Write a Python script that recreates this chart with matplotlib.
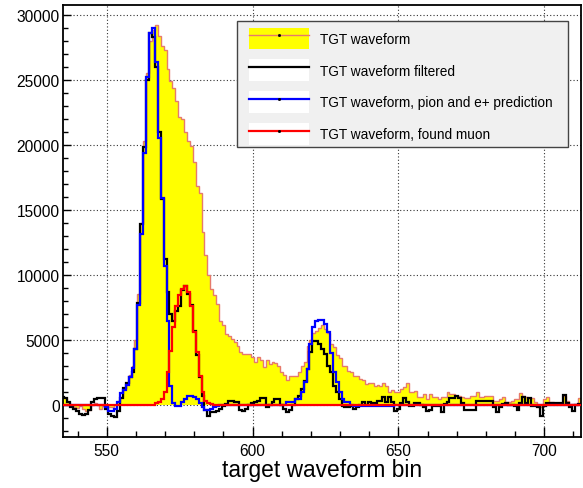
import numpy as np
import matplotlib
matplotlib.use("Agg")
import matplotlib.pyplot as plt
from matplotlib.patches import Patch, Rectangle
from matplotlib.lines import Line2D
from matplotlib.ticker import MultipleLocator

plt.rcParams['font.family'] = ['Liberation Sans', 'DejaVu Sans']

# ---- data (bin centres 535..712) ----
bins = np.arange(535, 713)

tgt_waveform = [
    600, 550, 200, 0, -200, -250, -100, -300, -500, -400,
    0, 100, 0, -300, -100, 0, -150, -200, 0, 300,
    600, 1200, 1700, 2300, 3000, 5000, 8500, 14000, 20300, 25500,
    28000, 28800, 29200, 28400, 27600, 27300, 25800, 24900, 24400, 23400,
    22100, 22000, 21000, 20300, 19900, 18700, 16800, 16300, 13300, 11500,
    10000, 8900, 8400, 7750, 6400, 6100, 5450, 5300, 5050, 4800,
    4550, 4050, 3900, 3900, 3900, 3650, 3300, 3650, 3400, 2900,
    3400, 3100, 3300, 3200, 3000, 2500, 2300, 1900, 2200, 2200,
    2200, 2500, 3000, 3300, 4500, 5000, 5500, 5700, 5900, 6100,
    5800, 5500, 4700, 4400, 3800, 3600, 3000, 3000, 2600, 2500,
    2200, 2200, 2000, 1900, 1600, 1700, 1650, 1450, 1500, 1450,
    1700, 1450, 950, 1100, 1000, 950, 1200, 1340, 1700, 950,
    950, 1080, 570, 570, 820, 440, 820, 600, 600, 440,
    570, 600, 950, 820, 820, 690, 690, 570, 500, 490,
    690, 690, 950, 600, 600, 690, 690, 690, 310, 310,
    400, 570, 200, 180, 300, 400, 440, 880, 700, 570,
    500, 500, 200, -200, -200, 400, 570, 200, 200, 150,
    50, 50, 690, 300, 50, 50, 50, 490,
]

tgt_filtered = [
    600, 500, 200, -150, -300, -500, -700, -800, -700, -400,
    200, 400, 550, 550, 500, -300, -700, -900, -950, -500,
    500, 1300, 1700, 2100, 2500, 4300, 7800, 13900, 19800, 25000,
    28600, 28300, 26000, 21000, 15800, 11200, 8650, 7000, 6400, 7200,
    7600, 8800, 9100, 8500, 7700, 5700, 3800, 2100, 690, -400,
    -850, -600, -560, -500, -300, -100, 50, 300, 250, 200,
    200, -400, -500, -300, 0, 150, 200, 300, 490, 490,
    -200, 0, 200, 450, 400, 0, -300, -590, -400, 0,
    400, 690, 1210, 1850, 2750, 4030, 4900, 4900, 4670, 4290,
    3900, 3000, 2490, 1460, 950, 440, -80, -200, -150, -100,
    -330, -200, 0, 180, 0, 180, 100, 100, 310, 310,
    570, 200, 570, 200, -460, -300, 100, 550, 200, -100,
    -100, 100, 100, 0, -200, -460, -400, -80, -80, -120,
    -540, 50, 200, 490, 490, 690, 490, 150, -380, -380,
    -380, -380, 310, 310, 250, 250, 250, 250, -200, -540,
    -200, 50, 100, 0, 0, -80, -380, 150, 570, 150,
    490, -80, -80, -200, -850, -80, 150, 100, 100, 100,
    100, 150, 750, 150, -200, -460, 0, 50,
]

pion_positron_pred = [
    0, 0, 0, 0, 0, 0, 0, 0, 0, 0,
    0, 0, 0, 0, 0, -200, -500, -500, -350, 200,
    900, 1100, 1500, 2100, 2800, 4300, 7700, 13100, 19400, 25200,
    28600, 29000, 26400, 20500, 15900, 10700, 6400, 1400, 100, -100,
    -100, 200, 450, 650, 700, 600, 400, 100, -200, -400,
    -400, -300, -200, -100, 0, 0, 0, 0, 0, 0,
    0, 0, 0, 0, 0, 0, 0, 0, 0, 0,
    0, 0, 0, 0, 0, 0, 0, 200, 200, 200,
    440, 440, 980, 1750, 2750, 4670, 5980, 6460, 6540, 6540,
    6210, 5590, 4000, 2510, 1750, 980, 440, 200, 200, 0,
    -80, -80, -80, -80, -80, -80, -80, -80, -80, -80,
    -80, -80, -80, -80, 0, 0, 0, 0, 0, 0,
    0, 0, 0, 0, 0, 0, 0, 0, 0, 0,
    0, 0, 0, 0, 0, 0, 0, 0, 0, 0,
    0, 0, 0, 0, 0, 0, 0, 0, 0, 0,
    0, 0, 0, 0, 0, 0, 0, 0, 0, 0,
    0, 0, 0, 0, 0, 0, 0, 0, 0, 0,
    0, 0, 0, 0, 0, 0, 0, 0,
]

found_muon = [0] * 178
muon_start = 567
muon_values = [100, 200, 450, 1000, 2500, 4150, 6000, 7620, 8400, 8900,
               9160, 8700, 7600, 5600, 4030, 2230, 980, 310, 100, 50]
for i, v in enumerate(muon_values):
    found_muon[muon_start - 535 + i] = v

x_ticks = [550, 600, 650, 700]
y_ticks = [0, 5000, 10000, 15000, 20000, 25000, 30000]
labels = ["TGT waveform", "TGT waveform filtered",
          "TGT waveform, pion and e+ prediction", "TGT waveform, found muon"]

# ---- figure ----
W, H = 583, 489
fig = plt.figure(figsize=(W / 100, H / 100), dpi=100)
L, R, T, B = 63, 581, 6, 437.5
ax = fig.add_axes([L / W, 1 - B / H, (R - L) / W, (B - T) / H])

edges = np.append(bins - 0.5, bins[-1] + 0.5)
outline = '#e67a6c'
ax.stairs(tgt_waveform, edges, baseline=0, fill=True, color='#ffff00', zorder=2)
ax.stairs(tgt_waveform, edges, baseline=None, color=outline, lw=1.0, zorder=2.5)
ax.stairs(tgt_filtered, edges, baseline=None, color='black', lw=1.6, zorder=3)
ax.stairs(pion_positron_pred, edges, baseline=None, color='#0000ff', lw=1.6, zorder=4)
ax.stairs(found_muon, edges, baseline=None, color='#ff0000', lw=1.6, zorder=5)

ax.set_xlim(535, 712.6)
ax.set_ylim(-2450, 30750)
ax.set_xticks(x_ticks)
ax.set_yticks(y_ticks)
ax.xaxis.set_minor_locator(MultipleLocator(10))
ax.yaxis.set_minor_locator(MultipleLocator(1000))
ax.tick_params(axis='both', which='both', direction='in', top=False, right=False,
               labelsize=11.2, width=1.0, color='black')
ax.tick_params(axis='x', which='major', length=7, pad=4.5)
ax.tick_params(axis='x', which='minor', length=4.3)
ax.tick_params(axis='y', which='major', length=5.5, pad=2.5)
ax.tick_params(axis='y', which='minor', length=3.5)
for s in ax.spines.values():
    s.set_linewidth(1.3)
    s.set_color('black')

ax.set_axisbelow(True)
ax.grid(True, which='major', linestyle=(0, (1, 2)), color='#333333', lw=0.8, zorder=0)

fig.text(322 / W, 1 - 471 / H, "target waveform bin", ha='center', va='center', fontsize=16.4)

# ---- legend ----
box = Rectangle((237 / W, 1 - 148 / H), (568 - 237) / W, (148 - 22) / H,
                transform=fig.transFigure, facecolor='#f0f0f0', edgecolor='#444444',
                lw=1.0, clip_on=False, zorder=9)
ax.add_artist(box)

h1 = (Patch(facecolor='#ffff00', edgecolor='none'),
      Line2D([], [], color=outline, lw=1.0, marker='s', markersize=1, markerfacecolor='k', markeredgecolor='k'))
h2 = (Patch(facecolor='white', edgecolor='none'),
      Line2D([], [], color='black', lw=1.6))
h3 = (Patch(facecolor='white', edgecolor='none'),
      Line2D([], [], color='#0000ff', lw=1.6, marker='s', markersize=1, markerfacecolor='k', markeredgecolor='k'))
h4 = (Patch(facecolor='white', edgecolor='none'),
      Line2D([], [], color='#ff0000', lw=1.6, marker='s', markersize=1, markerfacecolor='k', markeredgecolor='k'))
leg = ax.legend([h1, h2, h3, h4], labels, loc='upper left',
                bbox_to_anchor=(249 / W, 1 - 28.5 / H), bbox_transform=fig.transFigure,
                borderaxespad=0, fontsize=9.8, handlelength=4.4, handleheight=2.1,
                handletextpad=0.85, labelspacing=0.73, borderpad=0.0,
                frameon=False, numpoints=1)
leg.set_zorder(10)

fig.savefig("out.png", dpi=100)
